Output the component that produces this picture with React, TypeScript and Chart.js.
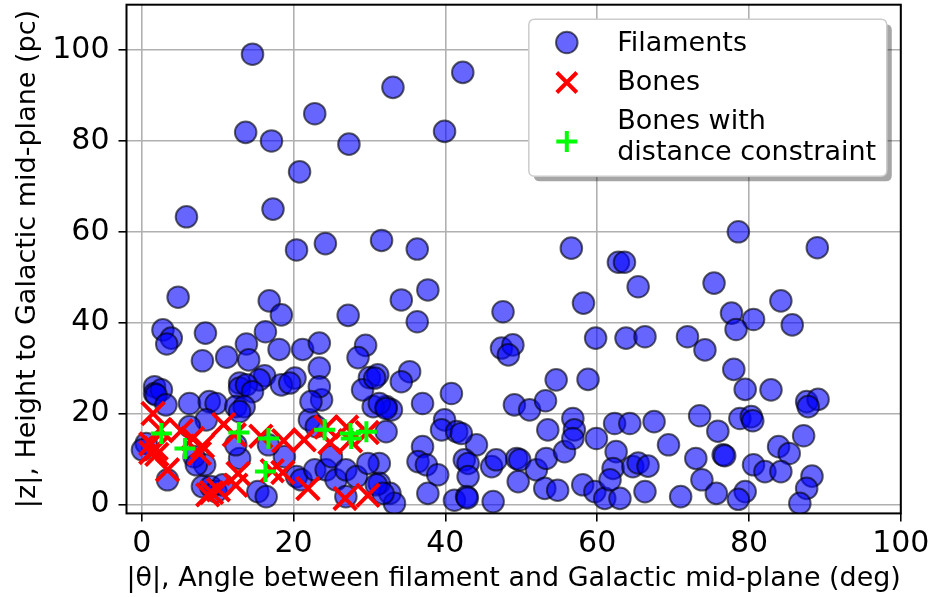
import React, { useEffect, useRef } from 'react';
import { Chart, registerables } from 'chart.js';

Chart.register(...registerables);

const FONT = "'DejaVu Sans', sans-serif";

// Filaments: |theta| (deg) and |z| (pc)
const filamentX = [
  14.6, 42.3, 33.1, 22.8, 13.7, 17.1, 27.3, 39.9, 20.8, 5.9,
  17.3, 20.4, 24.2, 31.6, 36.3, 56.6, 62.8, 63.6, 78.6, 89.0,
  4.8, 16.8, 18.4, 27.2, 2.8, 3.9, 3.3, 8.4, 16.3, 13.8,
  18.1, 21.2, 23.4, 29.5, 28.5, 8.0, 11.2, 14.1, 23.4, 16.2,
  15.5, 12.9, 20.2, 18.4, 30.0, 31.1, 1.7, 65.4, 37.7, 34.2,
  36.3, 47.6, 58.2, 59.8, 63.8, 66.3, 47.4, 48.9, 48.3, 35.3,
  34.2, 54.6, 58.8, 40.8, 37.0, 49.1, 51.1, 53.2, 32.2, 32.9,
  32.2, 39.9, 39.5, 41.5, 44.1, 42.1, 37.0, 36.4, 37.5, 39.0,
  31.3, 42.5, 43.0, 43.0, 41.2, 42.8, 42.9, 37.7, 46.3, 31.3,
  32.7, 33.3, 46.1, 46.7, 49.4, 49.8, 52.0, 49.6, 53.3, 53.1,
  54.8, 55.7, 53.5, 56.8, 57.0, 56.8, 59.9, 58.1, 59.7, 61.0,
  63.0, 62.3, 64.3, 62.5, 62.1, 61.7, 64.7, 65.4, 75.4, 84.2,
  77.7, 80.6, 78.3, 85.7, 71.9, 74.2, 78.0, 79.5, 82.9, 87.6,
  89.1, 87.8, 73.5, 67.5, 78.8, 80.3, 80.5, 75.9, 87.2, 69.4,
  73.0, 76.6, 76.8, 83.9, 85.3, 80.6, 82.1, 84.2, 66.7, 73.8,
  88.3, 87.6, 86.7, 66.3, 71.0, 75.7, 79.5, 78.6, 1.7, 2.6,
  1.9, 6.3, 8.9, 9.8, 12.9, 13.8, 14.6, 12.4, 13.5, 12.9,
  3.2, 8.5, 6.3, 0.6, 0.1, 3.4, 8.0, 9.1, 9.8, 10.7,
  15.3, 16.4, 12.9, 8.3, 18.8, 20.4, 21.0, 22.8, 24.3, 25.6,
  25.0, 26.9, 28.3, 29.8, 30.9, 31.8, 26.9, 16.7, 12.4, 22.1,
  23.0, 30.5, 31.3, 32.2, 29.1, 23.7, 19.5, 6.9, 7.2, 23.4,
  30.7, 22.3,
];
const filamentY = [
  99.1, 95.1, 91.8, 86.0, 81.9, 80.0, 79.3, 82.1, 73.2, 63.3,
  65.0, 56.0, 57.4, 58.1, 56.2, 56.4, 53.3, 53.3, 60.0, 56.5,
  45.6, 44.8, 41.7, 41.6, 38.4, 36.6, 35.3, 37.7, 38.0, 35.3,
  34.1, 34.1, 35.5, 35.0, 32.3, 31.6, 32.4, 31.8, 30.0, 28.3,
  27.4, 26.7, 27.8, 26.3, 27.9, 28.5, 25.9, 47.9, 47.2, 45.0,
  40.2, 42.4, 44.3, 36.6, 36.6, 36.9, 34.4, 35.1, 32.9, 29.2,
  27.0, 27.4, 27.5, 24.4, 22.2, 21.9, 20.8, 22.8, 21.5, 20.8,
  16.0, 18.6, 16.4, 16.0, 13.1, 15.6, 12.7, 9.4, 8.7, 6.5,
  9.0, 9.8, 9.0, 6.1, 0.9, 1.7, 1.4, 2.4, 0.6, 4.6,
  2.4, 0.2, 8.3, 9.8, 10.1, 9.8, 7.6, 5.0, 10.1, 3.5,
  3.1, 11.6, 16.4, 18.9, 16.4, 14.5, 14.5, 4.3, 2.8, 1.3,
  1.3, 17.8, 17.8, 11.6, 7.9, 5.4, 8.3, 9.1, 48.7, 44.8,
  42.1, 40.7, 38.5, 39.5, 36.9, 34.0, 29.7, 25.3, 25.2, 22.6,
  23.1, 21.5, 19.5, 18.2, 18.9, 19.3, 18.4, 16.1, 15.1, 13.1,
  10.1, 10.9, 10.7, 12.7, 11.2, 8.7, 7.2, 7.2, 8.4, 5.4,
  6.2, 3.5, 0.2, 2.8, 1.7, 2.4, 2.8, 1.1, 24.4, 25.2,
  24.1, 22.2, 22.6, 22.2, 25.6, 26.3, 24.8, 21.5, 21.5, 20.4,
  21.9, 18.6, 17.1, 13.4, 12.0, 5.4, 3.9, 3.9, 2.8, 4.3,
  2.8, 1.7, 10.1, 8.7, 10.5, 6.1, 5.4, 7.6, 7.6, 5.4,
  10.5, 7.6, 6.1, 9.0, 4.3, 2.4, 1.7, 13.1, 13.1, 18.6,
  17.1, 21.5, 22.2, 21.1, 25.2, 23.0, 26.7, 10.5, 8.7, 25.9,
  27.8, 22.6,
];

// Bones
const bonesX = [
  1.5, 1.2, 1.9, 1.2, 2.4, 3.4, 5.2, 6.7, 8.0, 7.6,
  10.8, 12.2, 8.7, 9.2, 10.1, 12.4, 12.7, 15.7, 18.7, 18.6,
  21.4, 21.9, 24.3, 24.8, 27.0, 27.5, 29.7, 26.8, 29.8, 17.2,
  2.0,
];
const bonesY = [
  20.0, 13.3, 12.3, 11.4, 16.5, 7.6, 16.2, 14.5, 12.8, 11.2,
  17.6, 15.3, 2.1, 2.6, 3.2, 4.2, 6.8, 15.0, 14.0, 7.0,
  14.2, 3.5, 17.0, 13.6, 17.0, 14.0, 15.8, 1.3, 2.0, 7.4,
  11.0,
];

// Bones with distance constraint
const constrainedX = [2.6, 5.7, 12.8, 16.7, 16.3, 24.1, 27.5, 27.6, 29.6];
const constrainedY = [15.6, 12.3, 15.8, 14.5, 7.2, 16.4, 15.6, 14.5, 16.0];

const xTicks = [0, 20, 40, 60, 80, 100];
const yTicks = [0, 20, 40, 60, 80, 100];

const seriesNames = ['Filaments', 'Bones', ['Bones with', 'distance constraint']];
const xTitle = '|θ|, Angle between filament and Galactic mid-plane (deg)';
const yTitle = '|z|, Height to Galactic mid-plane (pc)';

const FIL_FILL = 'rgba(0,0,255,0.6)';
const FIL_EDGE = 'rgba(0,0,0,0.6)';
const BONE_COLOR = '#ff0000';
const CONS_COLOR = '#00ff00';

const toPoints = (xs: number[], ys: number[]) => xs.map((x, i) => ({ x, y: ys[i] }));

function roundRect(ctx: CanvasRenderingContext2D, x: number, y: number, w: number, h: number, r: number) {
  ctx.beginPath();
  ctx.moveTo(x + r, y);
  ctx.lineTo(x + w - r, y);
  ctx.quadraticCurveTo(x + w, y, x + w, y + r);
  ctx.lineTo(x + w, y + h - r);
  ctx.quadraticCurveTo(x + w, y + h, x + w - r, y + h);
  ctx.lineTo(x + r, y + h);
  ctx.quadraticCurveTo(x, y + h, x, y + h - r);
  ctx.lineTo(x, y + r);
  ctx.quadraticCurveTo(x, y, x + r, y);
  ctx.closePath();
}

const framePlugin = {
  id: 'frameAndLegend',
  afterDraw(chart: any) {
    const ctx: CanvasRenderingContext2D = chart.ctx;
    const a = chart.chartArea;
    ctx.save();
    // axes frame
    ctx.strokeStyle = '#000';
    ctx.lineWidth = 2;
    ctx.strokeRect(a.left, a.top, a.right - a.left, a.bottom - a.top);

    // legend box
    const w = 358;
    const h = 157;
    const x0 = a.right - 14 - w;
    const y0 = a.top + 14.6;
    roundRect(ctx, x0 + 5, y0 + 5, w, h, 6);
    ctx.fillStyle = 'rgba(0,0,0,0.35)';
    ctx.fill();
    roundRect(ctx, x0, y0, w, h, 6);
    ctx.fillStyle = '#ffffff';
    ctx.fill();
    ctx.strokeStyle = '#cccccc';
    ctx.lineWidth = 1.5;
    ctx.stroke();

    const mx = x0 + 38;
    // circle
    ctx.beginPath();
    ctx.arc(mx, y0 + 23.2, 10.8, 0, Math.PI * 2);
    ctx.fillStyle = FIL_FILL;
    ctx.fill();
    ctx.strokeStyle = FIL_EDGE;
    ctx.lineWidth = 2;
    ctx.stroke();
    // X
    const xy = y0 + 63.2;
    const d = 10;
    ctx.beginPath();
    ctx.moveTo(mx - d, xy - d);
    ctx.lineTo(mx + d, xy + d);
    ctx.moveTo(mx - d, xy + d);
    ctx.lineTo(mx + d, xy - d);
    ctx.strokeStyle = BONE_COLOR;
    ctx.lineWidth = 4;
    ctx.stroke();
    // plus
    const py = y0 + 122.2;
    const p = 10.5;
    ctx.beginPath();
    ctx.moveTo(mx - p, py);
    ctx.lineTo(mx + p, py);
    ctx.moveTo(mx, py - p);
    ctx.lineTo(mx, py + p);
    ctx.strokeStyle = CONS_COLOR;
    ctx.lineWidth = 4;
    ctx.stroke();

    ctx.fillStyle = '#000';
    ctx.font = `27px ${FONT}`;
    ctx.textBaseline = 'alphabetic';
    ctx.textAlign = 'left';
    const tx = x0 + 88.4;
    ctx.fillText(seriesNames[0] as string, tx, y0 + 31.2);
    ctx.fillText(seriesNames[1] as string, tx, y0 + 71);
    const multi = seriesNames[2] as string[];
    ctx.fillText(multi[0], tx, y0 + 109.7);
    ctx.fillText(multi[1], tx, y0 + 141);
    ctx.restore();
  },
};

export default function App() {
  const ref = useRef<HTMLCanvasElement | null>(null);

  useEffect(() => {
    document.body.style.margin = '0';
    if (!ref.current) return;
    const gridCommon = {
      color: '#b0b0b0',
      lineWidth: 1.6,
      tickColor: '#000',
      tickLength: 8,
      tickWidth: 1.6,
      drawTicks: true,
    };
    const chart = new Chart(ref.current, {
      type: 'scatter',
      data: {
        datasets: [
          {
            label: 'Filaments',
            data: toPoints(filamentX, filamentY),
            backgroundColor: FIL_FILL,
            borderColor: FIL_EDGE,
            borderWidth: 2,
            pointRadius: 10.8,
            pointHoverRadius: 10.8,
            order: 3,
          },
          {
            label: 'Bones',
            data: toPoints(bonesX, bonesY),
            pointStyle: 'crossRot',
            backgroundColor: BONE_COLOR,
            borderColor: BONE_COLOR,
            borderWidth: 4,
            pointRadius: 16,
            pointHoverRadius: 16,
            order: 2,
          },
          {
            label: 'Bones with distance constraint',
            data: toPoints(constrainedX, constrainedY),
            pointStyle: 'cross',
            backgroundColor: CONS_COLOR,
            borderColor: CONS_COLOR,
            borderWidth: 4,
            pointRadius: 10.5,
            pointHoverRadius: 10.5,
            order: 1,
          },
        ],
      },
      options: {
        animation: false,
        responsive: false,
        devicePixelRatio: 1,
        events: [],
        layout: { autoPadding: false, padding: { top: 4.7, right: 34.2, left: 0, bottom: 0 } },
        plugins: {
          legend: { display: false },
          tooltip: { enabled: false },
        },
        scales: {
          x: {
            type: 'linear',
            min: -2,
            max: 100,
            afterBuildTicks: (s: any) => {
              s.ticks = xTicks.map((v) => ({ value: v }));
            },
            afterFit: (s: any) => {
              s.height = 83.6;
              s.paddingLeft = 0;
              s.paddingRight = 0;
            },
            grid: gridCommon,
            border: { display: false },
            ticks: {
              font: { family: FONT, size: 30 },
              color: '#000',
              padding: 5,
              maxRotation: 0,
              autoSkip: false,
            },
            title: {
              display: true,
              text: xTitle,
              font: { family: FONT, size: 27 },
              color: '#000',
              padding: { top: 0, bottom: 2 },
            },
          },
          y: {
            type: 'linear',
            min: -2,
            max: 110,
            afterBuildTicks: (s: any) => {
              s.ticks = yTicks.map((v) => ({ value: v }));
            },
            afterFit: (s: any) => {
              s.width = 126.5;
              s.paddingTop = 0;
              s.paddingBottom = 0;
            },
            grid: gridCommon,
            border: { display: false },
            ticks: {
              font: { family: FONT, size: 30 },
              color: '#000',
              padding: 9,
              autoSkip: false,
            },
            title: {
              display: true,
              text: yTitle,
              font: { family: FONT, size: 27 },
              color: '#000',
              padding: { top: 12, bottom: 0 },
            },
          },
        },
      },
      plugins: [framePlugin],
    } as any);
    return () => chart.destroy();
  }, []);

  return (
    <div style={{ width: 935, height: 597 }}>
      <canvas ref={ref} width={935} height={597} style={{ display: 'block' }} />
    </div>
  );
}
